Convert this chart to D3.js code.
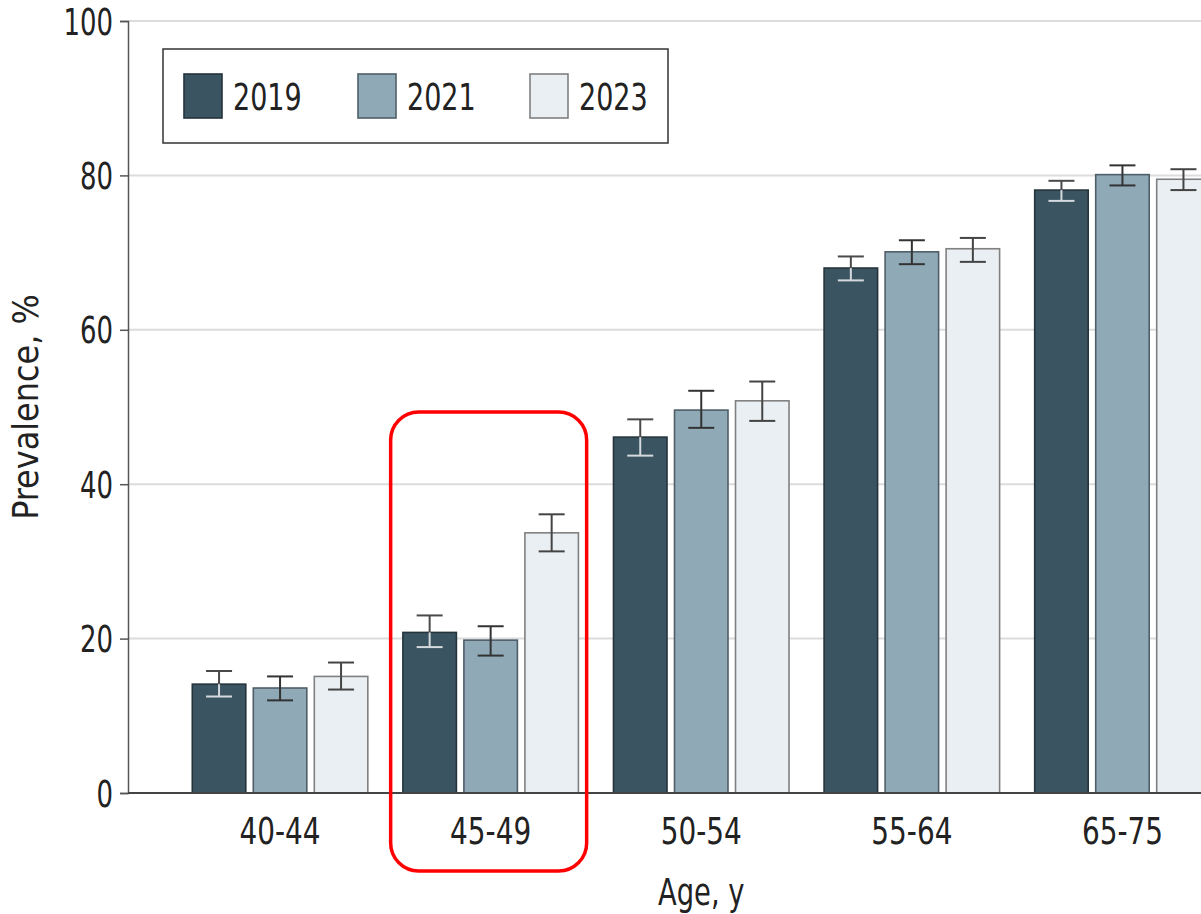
<!DOCTYPE html>
<html>
<head>
<meta charset="utf-8">
<script src="https://cdn.jsdelivr.net/npm/d3@7"></script>
<style>
  html, body { margin: 0; padding: 0; background: #fff; }
  svg { display: block; }
  text { font-family: "Liberation Sans Narrow", "DejaVu Sans Condensed", "Arial Narrow", sans-serif; fill: #222; }
</style>
</head>
<body>
<svg id="chart" width="1201" height="914"></svg>
<script>
// Prevalence by age group and survey year, with 95% CI bounds
const ageGroups = ["40-44", "45-49", "50-54", "55-64", "65-75"];
const years = ["2019", "2021", "2023"];
const prev2019 = [14.1, 20.8, 46.1, 68.0, 78.1];
const prev2021 = [13.6, 19.8, 49.6, 70.1, 80.1];
const prev2023 = [15.1, 33.7, 50.8, 70.5, 79.5];
const lo2019 = [12.5, 18.9, 43.7, 66.4, 76.7];
const hi2019 = [15.8, 23.0, 48.4, 69.5, 79.3];
const lo2021 = [12.0, 17.8, 47.3, 68.5, 78.7];
const hi2021 = [15.1, 21.6, 52.1, 71.6, 81.3];
const lo2023 = [13.4, 31.3, 48.2, 68.8, 78.1];
const hi2023 = [16.9, 36.1, 53.3, 71.9, 80.8];
const yTicks = [0, 20, 40, 60, 80, 100];
const highlightGroup = "45-49";

const fills = { "2019": "#3b5461", "2021": "#8fa9b7", "2023": "#e9eff2" };
const strokes = { "2019": "#25343c", "2021": "#4f5f68", "2023": "#808080" };
const capUpper = { "2019": "#4a4a4a", "2021": "#333", "2023": "#444" };
const capLower = { "2019": "#d4dadd", "2021": "#333", "2023": "#444" };

const series = {
  "2019": { v: prev2019, lo: lo2019, hi: hi2019 },
  "2021": { v: prev2021, lo: lo2021, hi: hi2021 },
  "2023": { v: prev2023, lo: lo2023, hi: hi2023 }
};

const rows = [];
ageGroups.forEach((g, i) => {
  years.forEach(yr => {
    rows.push({ group: g, year: yr, value: series[yr].v[i], lo: series[yr].lo[i], hi: series[yr].hi[i] });
  });
});

// narrow the glyphs horizontally around each text's own anchor point
function condense(sel, sx) {
  sel.each(function () {
    const t = d3.select(this);
    const x = +t.attr("x") || 0;
    t.attr("transform", `translate(${x},0) scale(${sx},1) translate(${-x},0)`);
  });
}

const svg = d3.select("#chart");
const plotLeft = 128, plotTop = 21, plotBottom = 793;

const y = d3.scaleLinear().domain([0, 100]).range([plotBottom, plotTop]);
const x0 = d3.scaleBand().domain(ageGroups)
  .range([plotLeft, plotLeft + 210.6 * (5 + 2 * 0.222)])
  .paddingInner(0).paddingOuter(0.222);
const x1 = d3.scaleBand().domain(years)
  .range([0, x0.bandwidth()])
  .paddingInner(0.123).paddingOuter(0.2875);

// gridlines
svg.append("g").selectAll("line").data(yTicks.filter(t => t > 0)).join("line")
  .attr("x1", plotLeft).attr("x2", 1201)
  .attr("y1", d => y(d)).attr("y2", d => y(d))
  .attr("stroke", "#dcdcdc").attr("stroke-width", 2);

// bars
const bars = svg.append("g");
bars.selectAll("rect").data(rows).join("rect")
  .attr("x", d => x0(d.group) + x1(d.year))
  .attr("y", d => y(d.value))
  .attr("width", x1.bandwidth())
  .attr("height", d => y(0) - y(d.value))
  .attr("fill", d => fills[d.year])
  .attr("stroke", d => strokes[d.year])
  .attr("stroke-width", 1.6);

// error bars: upper half and lower half drawn separately for contrast on dark bars
const capW = 26;
const eb = svg.append("g").attr("stroke-width", 2);
rows.forEach(d => {
  const cx = x0(d.group) + x1(d.year) + x1.bandwidth() / 2;
  eb.append("line").attr("x1", cx).attr("x2", cx).attr("y1", y(d.hi)).attr("y2", y(d.value))
    .attr("stroke", capUpper[d.year]);
  eb.append("line").attr("x1", cx - capW / 2).attr("x2", cx + capW / 2).attr("y1", y(d.hi)).attr("y2", y(d.hi))
    .attr("stroke", capUpper[d.year]);
  eb.append("line").attr("x1", cx).attr("x2", cx).attr("y1", y(d.value)).attr("y2", y(d.lo))
    .attr("stroke", capLower[d.year]);
  eb.append("line").attr("x1", cx - capW / 2).attr("x2", cx + capW / 2).attr("y1", y(d.lo)).attr("y2", y(d.lo))
    .attr("stroke", capLower[d.year]);
});

// y axis
const yAxis = svg.append("g").attr("transform", `translate(${plotLeft},0)`)
  .call(d3.axisLeft(y).tickValues(yTicks).tickSize(8).tickPadding(7));
yAxis.select(".domain").attr("stroke", "#555").attr("stroke-width", 1.5);
yAxis.selectAll(".tick line").attr("stroke", "#555").attr("stroke-width", 1.5);
yAxis.selectAll(".tick text").style("font-size", "36.5px").attr("fill", "#222").attr("dy", "0.36em")
  .call(condense, 0.79);

// x axis
const xAxis = svg.append("g").attr("transform", `translate(0,${plotBottom})`)
  .call(d3.axisBottom(x0).tickSize(0).tickPadding(25));
xAxis.select(".domain").attr("d", `M${plotLeft},0H1201`).attr("stroke", "#444").attr("stroke-width", 2);
xAxis.selectAll(".tick text").style("font-size", "36.5px").attr("fill", "#222")
  .call(condense, 0.85);

// axis titles
svg.append("text").attr("x", x0("50-54") + x0.bandwidth() / 2).attr("y", 905)
  .attr("text-anchor", "middle").style("font-size", "38px").text("Age, y")
  .call(condense, 0.8);
svg.append("text").attr("transform", `translate(38,407) rotate(-90)`)
  .attr("text-anchor", "middle").style("font-size", "35.5px").text("Prevalence, %");

// legend
const legend = svg.append("g");
legend.append("rect").attr("x", 163).attr("y", 49).attr("width", 505).attr("height", 94)
  .attr("fill", "#fff").attr("stroke", "#333").attr("stroke-width", 1.5);
const legX = [184, 358, 530];
years.forEach((yr, i) => {
  legend.append("rect").attr("x", legX[i]).attr("y", 74).attr("width", 38).attr("height", 44)
    .attr("fill", fills[yr]).attr("stroke", strokes[yr]).attr("stroke-width", 1.6);
  legend.append("text").attr("x", legX[i] + 49).attr("y", 110)
    .style("font-size", "38px").text(yr)
    .call(condense, 0.79);
});

// highlight around one age group
const hx = x0(highlightGroup) + x0.bandwidth() / 2;
svg.append("rect").attr("x", hx - 100).attr("y", 412).attr("width", 196).attr("height", 459)
  .attr("rx", 28).attr("ry", 28)
  .attr("fill", "none").attr("stroke", "#f00").attr("stroke-width", 3.5);
</script>
</body>
</html>
